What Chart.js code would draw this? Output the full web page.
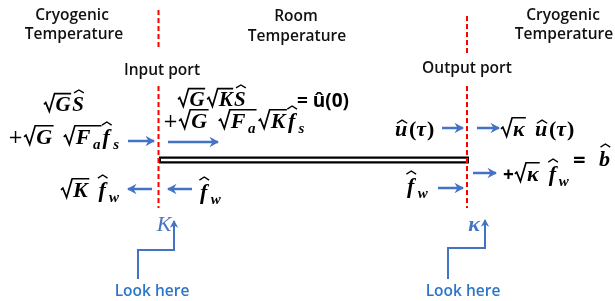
<!DOCTYPE html>
<html><head><meta charset="utf-8">
<script src="https://cdn.jsdelivr.net/npm/chart.js@4"></script>
<style>html,body{margin:0;padding:0;background:#fff}#wrap{width:615px;height:301px}</style>
</head><body><div id="wrap"><canvas id="c" width="615" height="301"></canvas></div>
<script>
// ---- data (diagram coordinates in a 615 x 301 value space) ----
const portLines = [
  [{x:158.5,y:10},{x:158.5,y:47}], [{x:158.5,y:86},{x:158.5,y:208}],
  [{x:467,y:16},{x:467,y:53}],     [{x:467,y:86},{x:467,y:208}]
];
const waveguide = [{x:159,y:160},{x:469,y:160}];
const arrows = [
  [{x:128,y:141},{x:154,y:141}],
  [{x:168,y:142},{x:218,y:142}],
  [{x:442,y:128},{x:463,y:128}],
  [{x:477,y:128},{x:499,y:128}],
  [{x:473,y:173},{x:496,y:173}],
  [{x:152,y:189},{x:128,y:189}],
  [{x:192,y:189},{x:168,y:189}],
  [{x:438,y:188},{x:463,y:188}]
];
const lookPaths = [
  [{x:138,y:279},{x:138,y:250},{x:174,y:250},{x:174,y:221}],
  [{x:448,y:279},{x:448,y:248},{x:485,y:248},{x:485,y:220}]
];
const labels = [
  {t:'Cryogenic',x:72,y:16},{t:'Temperature',x:74,y:35},
  {t:'Room',x:296,y:17},{t:'Temperature',x:297,y:37},
  {t:'Cryogenic',x:563,y:16},{t:'Temperature',x:564,y:35},
  {t:'Input port',x:162,y:71},{t:'Output port',x:467,y:69}
];
const lookLabels = [{t:'Look here',x:152,y:292},{t:'Look here',x:463,y:292}];
// math expressions: strings = bold italic; {r:[..]} sqrt; {h:c} hatted; {s:c} subscript; {u:txt} upright; {p} serif plus; {q} sans plus
const maths = [
  {x:43, y:111, sz:21, k:0.02, e:[{r:['G']},{h:'S',tall:1}]},
  {x:8,  y:144, sz:22, k:0.07, e:[{p:'+'},{r:['G']},' ',{r:['F',{s:'a'}]},{h:'f',tall:1},{s:'s'}]},
  {x:177,y:106, sz:21, k:0.02, e:[{r:['G']},{r:['K']},{h:'S',tall:1}]},
  {x:163,y:128, sz:22, k:0.07, e:[{p:'+'},{r:['G']},' ',{r:['F',{s:'a'}]},{r:['K']},{h:'f',tall:1},{s:'s'}]},
  {x:395,y:136, sz:22, k:0.05, e:[{h:'u'},{u:'('},'τ',{u:')'}]},
  {x:500,y:136, sz:22, k:0.05, e:[{r:['κ']},' ',{h:'u'},{u:'('},'τ',{u:')'}]},
  {x:503,y:181, sz:22, k:0.05, e:[{q:'+'},{r:['κ']},' ',{h:'f',tall:1},{s:'w'}]},
  {x:599,y:166, sz:22, k:0.05, e:[{h:'b',tall:1}]},
  {x:60, y:197, sz:22, k:0.07, e:[{r:['K']},' ',{h:'f',tall:1},{s:'w'}]},
  {x:200,y:199, sz:22, k:0.07, e:[{h:'f',tall:1},{s:'w'}]},
  {x:407,y:193, sz:22, k:0.07, e:[{h:'f',tall:1},{s:'w'}]}
];
const sansMath = [{t:'= û(0)',x:297,y:107,sz:19},{t:'=',x:573,y:167,sz:22}];
const portSymbols = [{t:'K',x:164,y:231,style:'italic 22px "Liberation Serif"'},{t:'κ',x:474,y:231,style:'bold italic 22px "Liberation Serif"'}];

const BLUE = '#4472C4', LBLUE = '#2E75C8';

function mfont(sz,up){return (up?'bold ':'bold italic ')+sz+'px "Liberation Serif"';}
function runMath(ctx,toks,x,y,sz,draw,kf){
  let cur=0;const k=sz*kf;
  for(const tk of toks){
    if(typeof tk==='string'){ctx.font=mfont(sz);const w=ctx.measureText(tk).width;if(draw)ctx.fillText(tk,x+cur,y);cur+=w+(tk===' '?sz*0.12:k);}
    else if(tk.u!==undefined){ctx.font=mfont(sz,1);const w=ctx.measureText(tk.u).width;if(draw)ctx.fillText(tk.u,x+cur,y);cur+=w;}
    else if(tk.p!==undefined){ctx.font=Math.round(sz*0.8)+'px "DejaVu Serif"';const w=ctx.measureText(tk.p).width;if(draw)ctx.fillText(tk.p,x+cur,y-sz*0.03);cur+=w;}
    else if(tk.q!==undefined){ctx.font='bold '+Math.round(sz*0.85)+'px "Open Sans"';const w=ctx.measureText(tk.q).width;if(draw)ctx.fillText(tk.q,x+cur,y-sz*0.02);cur+=w;}
    else if(tk.s!==undefined){const s2=Math.round(sz*0.7);ctx.font=mfont(s2);const w=ctx.measureText(tk.s).width;if(draw)ctx.fillText(tk.s,x+cur+1,y+sz*0.22);cur+=w+2;}
    else if(tk.h!==undefined){ctx.font=mfont(sz);const w=ctx.measureText(tk.h).width;
      if(draw){ctx.fillText(tk.h,x+cur,y);const top=y-(tk.tall?sz*0.86:sz*0.58);
        const cx=x+cur+w*0.58,hw=Math.max(w*0.42,sz*0.22);
        ctx.save();ctx.lineWidth=1.4;ctx.beginPath();ctx.moveTo(cx-hw,top);ctx.lineTo(cx,top-sz*0.14);ctx.lineTo(cx+hw,top);ctx.stroke();ctx.restore();}
      cur+=w+k*1.5;}
    else if(tk.r){const rw=sz*0.55;const iw=runMath(ctx,tk.r,0,0,sz,false,kf);
      if(draw){const x0=x+cur;ctx.save();ctx.lineWidth=1.7;ctx.lineJoin='miter';ctx.beginPath();
        ctx.moveTo(x0+1,y-sz*0.32);ctx.lineTo(x0+sz*0.13,y-sz*0.4);ctx.lineTo(x0+sz*0.3,y+sz*0.02);
        ctx.lineTo(x0+rw,y-sz*0.83);ctx.lineTo(x0+rw+iw+1,y-sz*0.83);ctx.stroke();ctx.restore();
        runMath(ctx,tk.r,x0+rw+1,y,sz,true,kf);}
      cur+=rw+iw+2;}
  }
  return cur;
}

const diagramPlugin={id:'diagram',
  afterDatasetsDraw(chart){
    const ctx=chart.ctx,sx=chart.scales.x,sy=chart.scales.y;
    chart.data.datasets.forEach((ds,i)=>{
      if(!ds.arrow)return;const pts=chart.getDatasetMeta(i).data;const a=pts[pts.length-2],b=pts[pts.length-1];
      const ang=Math.atan2(b.y-a.y,b.x-a.x),L=ds.head;
      ctx.save();ctx.fillStyle=ds.borderColor;ctx.beginPath();ctx.moveTo(b.x+Math.cos(ang)*1,b.y+Math.sin(ang)*1);
      ctx.lineTo(b.x-L*Math.cos(ang-0.55),b.y-L*Math.sin(ang-0.55));
      ctx.lineTo(b.x-L*0.55*Math.cos(ang),b.y-L*0.55*Math.sin(ang));
      ctx.lineTo(b.x-L*Math.cos(ang+0.55),b.y-L*Math.sin(ang+0.55));ctx.closePath();ctx.fill();ctx.restore();
    });
    ctx.save();ctx.textBaseline='middle';ctx.textAlign='center';
    ctx.fillStyle='#111';ctx.font='600 15.5px "Open Sans"';
    labels.forEach(l=>ctx.fillText(l.t,sx.getPixelForValue(l.x),sy.getPixelForValue(l.y)));
    ctx.fillStyle=LBLUE;ctx.font='600 15.5px "Open Sans"';
    lookLabels.forEach(l=>ctx.fillText(l.t,sx.getPixelForValue(l.x),sy.getPixelForValue(l.y)));
    ctx.textBaseline='alphabetic';
    ctx.fillStyle=BLUE;
    portSymbols.forEach(p=>{ctx.font=p.style;ctx.fillText(p.t,sx.getPixelForValue(p.x),sy.getPixelForValue(p.y));});
    ctx.textAlign='left';ctx.fillStyle='#000';ctx.strokeStyle='#000';
    maths.forEach(m=>runMath(ctx,m.e,sx.getPixelForValue(m.x),sy.getPixelForValue(m.y),m.sz,true,m.k));
    sansMath.forEach(m=>{ctx.font='bold '+m.sz+'px "Open Sans"';ctx.fillText(m.t,sx.getPixelForValue(m.x),sy.getPixelForValue(m.y));});
    ctx.restore();
  }};

const datasets=[];
portLines.forEach(p=>datasets.push({data:p,borderColor:'#FF0000',borderWidth:2,borderDash:[5,3],order:0}));
datasets.push({data:[{x:waveguide[0].x+2,y:waveguide[0].y},{x:waveguide[1].x-2,y:waveguide[1].y}],borderColor:'#fff',borderWidth:2.5,order:1});
datasets.push({data:waveguide,borderColor:'#000',borderWidth:7,order:2});
arrows.forEach(p=>datasets.push({data:p,borderColor:BLUE,borderWidth:2.5,arrow:true,head:10,order:0}));
lookPaths.forEach(p=>datasets.push({data:p,borderColor:BLUE,borderWidth:2,arrow:true,head:8,order:0}));
datasets.forEach(d=>{d.showLine=true;d.pointRadius=0;d.borderCapStyle='butt';d.tension=0;});

new Chart(document.getElementById('c'),{type:'scatter',data:{datasets},
  options:{responsive:false,animation:false,events:[],layout:{padding:0},
    plugins:{legend:{display:false},tooltip:{enabled:false}},
    scales:{x:{type:'linear',min:0,max:615,display:false},y:{type:'linear',min:0,max:301,reverse:true,display:false}}},
  plugins:[diagramPlugin]});
</script></body></html>
